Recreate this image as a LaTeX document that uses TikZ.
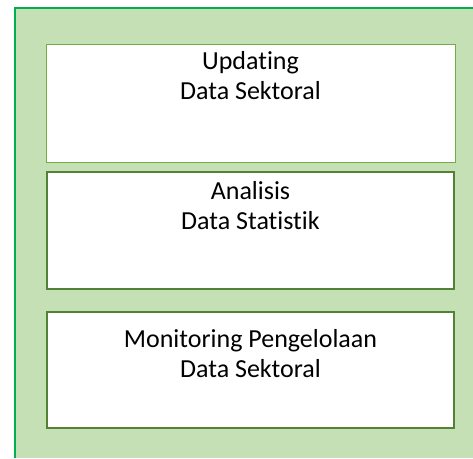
\documentclass[tikz,border=0pt]{standalone}
\usepackage{fontspec}
\setmainfont{Carlito}[Ligatures=NoCommon]
\usetikzlibrary{positioning}
\definecolor{panelgreen}{HTML}{C5E0B4}
\definecolor{edgegreen}{HTML}{00B050}
\definecolor{lightline}{HTML}{70AD47}
\definecolor{darkline}{HTML}{548235}
\tikzset{
    taskbox/.style={ % White boxes inside the panel
    draw=darkline,
    line width=1.6pt,
    fill=white,
    minimum width=407pt,
    minimum height=117pt},
    tasktext/.style={ % Labels at the top of each box
    align=center,
    inner sep=0pt,
    font=\fontsize{26}{30}\selectfont}}
\begin{document}
\begin{tikzpicture}[x=1pt,y=-1pt]
    \useasboundingbox (0,0) rectangle (473,458);
    % Green panel
    \fill[panelgreen] (15,8) rectangle (473,458);
    \draw[edgegreen, line width=2pt] (15,458) -- (15,8) -- (473,8);

    % Boxes
    \node[taskbox, draw=lightline, line width=0.8pt, minimum width=409pt, minimum height=118pt] (updating) at (250.5,103) {};
    \node[taskbox] (analisis) at (250.5,230.5) {};
    \node[taskbox, minimum height=116pt] (monitoring) at (250.5,370) {};

    % Labels
    \node[tasktext, below=8pt of updating.north] (updatingtext) {Updating\\Data Sektoral};
    \node[tasktext, below=10pt of analisis.north] (analisistext) {Analisis\\Data Statistik};
    \node[tasktext, below=18pt of monitoring.north] (monitoringtext) {Monitoring Pengelolaan\\Data Sektoral};
\end{tikzpicture}
\end{document}
